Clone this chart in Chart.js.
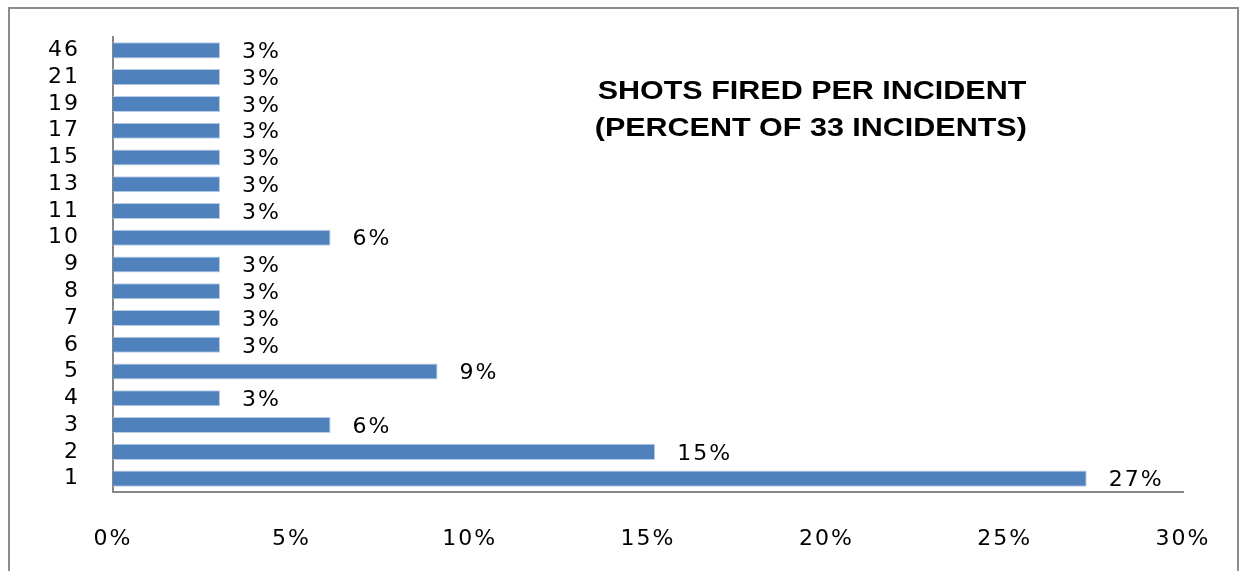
<!DOCTYPE html>
<html>
<head>
<meta charset="utf-8">
<script src="https://cdn.jsdelivr.net/npm/chart.js@4/dist/chart.umd.min.js"></script>
<style>
  html, body { margin: 0; padding: 0; background: #fff; overflow: hidden; }
  #wrap { width: 1247px; height: 571px; position: relative; }
</style>
</head>
<body>
<div id="wrap"><canvas id="shotsChart" width="1247" height="571"></canvas></div>
<script>
// shots fired per incident, bottom to top
const shotLabels = ['1', '2', '3', '4', '5', '6', '7', '8', '9', '10', '11', '13', '15', '17', '19', '21', '46'];
const shotPercents = [27.3, 15.2, 6.1, 3.0, 9.1, 3.0, 3.0, 3.0, 3.0, 6.1, 3.0, 3.0, 3.0, 3.0, 3.0, 3.0, 3.0];
const titleLines = ['SHOTS FIRED PER INCIDENT', '(PERCENT OF 33 INCIDENTS)'];
const xTickMax = 30;
const xTickStep = 5;

const tickFont = { family: 'DejaVu Sans', size: 22 };

const framePlugin = {
  id: 'frame',
  beforeDraw(chart) {
    const ctx = chart.ctx;
    ctx.save();
    ctx.fillStyle = '#fff';
    ctx.fillRect(0, 0, chart.width, chart.height);
    ctx.strokeStyle = '#8c8c8c';
    ctx.lineWidth = 2;
    ctx.strokeRect(9, 8, 1229, 600);
    ctx.restore();
    // the original text is a bit wider than DejaVu
    ctx.letterSpacing = '2px';
  },
  afterDraw(chart) {
    const ctx = chart.ctx;
    ctx.save();
    ctx.letterSpacing = '0px';
    ctx.fillStyle = '#000';
    ctx.textAlign = 'center';
    ctx.textBaseline = 'middle';
    ctx.font = 'bold 25px "Liberation Sans"';
    ctx.translate(812, 0);
    ctx.scale(1.22, 1);
    ctx.fillText(titleLines[0], 0, 92, 430 / 1.22);
    ctx.fillText(titleLines[1], -1, 129, 440 / 1.22);
    ctx.restore();
  }
};

const valueLabels = {
  id: 'valueLabels',
  afterDatasetsDraw(chart) {
    const ctx = chart.ctx;
    const meta = chart.getDatasetMeta(0);
    ctx.save();
    ctx.letterSpacing = '2px';
    ctx.fillStyle = '#000';
    ctx.font = '22px "DejaVu Sans"';
    ctx.textAlign = 'left';
    ctx.textBaseline = 'middle';
    meta.data.forEach((bar, i) => {
      ctx.fillText(Math.round(shotPercents[i]) + '%', bar.x + 22, bar.y + 2);
    });
    ctx.restore();
  }
};

const ctx = document.getElementById('shotsChart').getContext('2d');
new Chart(ctx, {
  type: 'bar',
  data: {
    labels: shotLabels,
    datasets: [
      {
        data: shotPercents,
        backgroundColor: '#4f81bd',
        borderColor: '#b9cde5',
        borderWidth: 1,
        barPercentage: 0.6,
        categoryPercentage: 1.0,
      },
    ],
  },
  options: {
    indexAxis: 'y',
    responsive: false,
    animation: false,
    layout: {
      padding: { left: 0, top: 37, right: 64, bottom: 0 },
    },
    plugins: {
      legend: { display: false },
      tooltip: { enabled: false },
      title: { display: false },
    },
    scales: {
      x: {
        min: 0,
        max: xTickMax,
        afterFit(scale) {
          scale.height = 79;
          scale.paddingLeft = 0;
          scale.paddingRight = 0;
        },
        grid: { display: false, drawTicks: false },
        border: { display: true, color: '#868686', width: 2 },
        ticks: {
          stepSize: xTickStep,
          color: '#000',
          font: tickFont,
          padding: 34,
          callback: (v) => v + '%',
        },
      },
      y: {
        reverse: true,
        afterFit(scale) {
          scale.width = 113;
          scale.paddingTop = 0;
          scale.paddingBottom = 0;
        },
        grid: { display: false, drawTicks: false },
        border: { display: true, color: '#868686', width: 2 },
        ticks: {
          color: '#000',
          font: tickFont,
          padding: 33,
          autoSkip: false,
        },
      },
    },
  },
  plugins: [framePlugin, valueLabels],
});
</script>
</body>
</html>
